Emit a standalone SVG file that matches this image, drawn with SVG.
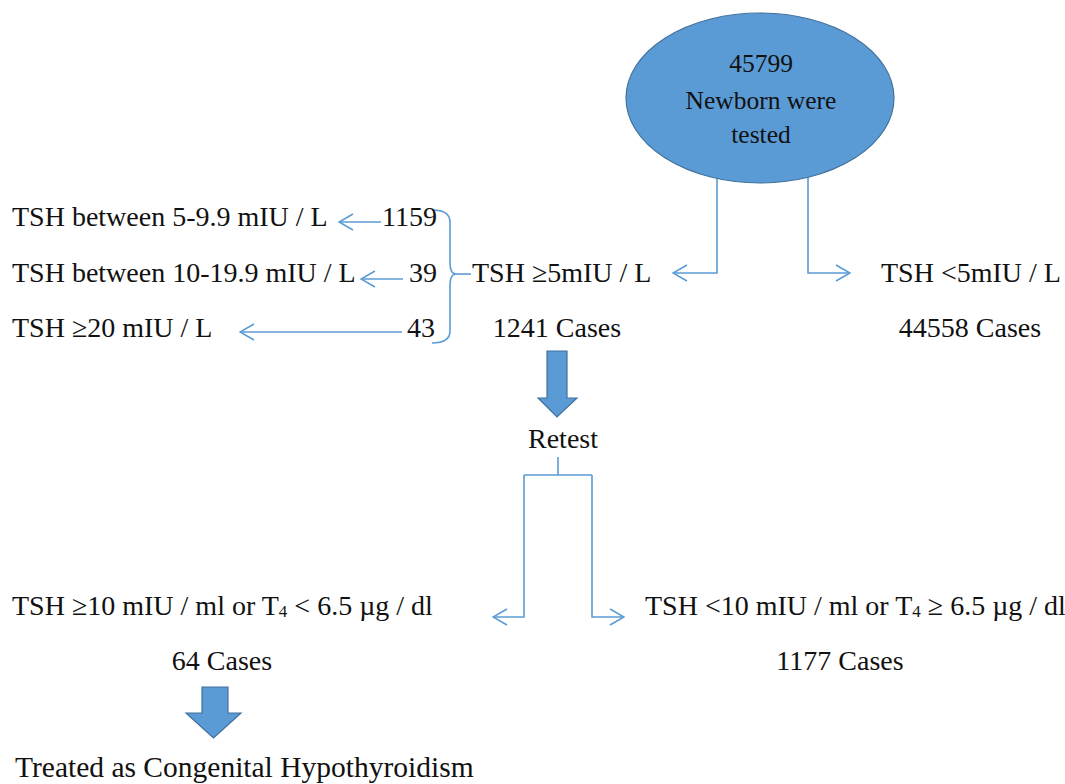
<svg xmlns="http://www.w3.org/2000/svg" width="1065" height="784" viewBox="0 0 1065 784">
  <style>
    .t { font-family: "Liberation Serif", "Times New Roman", serif; font-size: 28px; fill: #111; }
    .tc { text-anchor: middle; }
    .te { text-anchor: end; }
    .big { font-size: 29.5px; }
    .oval { font-size: 25.5px; }
    .sub { font-size: 17px; }
    .link { fill: none; stroke: #5B9BD5; stroke-width: 1.6; }
    .block { fill: #5B9BD5; stroke: #41719C; stroke-width: 1.2; }
  </style>
  <defs>
    <marker id="chev" viewBox="0 0 16 18" refX="15" refY="9" markerWidth="16" markerHeight="18" markerUnits="userSpaceOnUse" orient="auto">
      <path d="M1,1 L15,9 L1,17" fill="none" stroke="#5B9BD5" stroke-width="1.6"/>
    </marker>
  </defs>
  <rect width="1065" height="784" fill="#ffffff"/>

  <!-- connectors -->
  <g id="connectors">
    <path class="link" d="M717,178 V273 H673" marker-end="url(#chev)"/>
    <path class="link" d="M808,177 V273 H850" marker-end="url(#chev)"/>
    <path class="link" d="M381,222 H339" marker-end="url(#chev)"/>
    <path class="link" d="M403,279 H361" marker-end="url(#chev)"/>
    <path class="link" d="M402,332 H240" marker-end="url(#chev)"/>
    <path class="link" d="M432,210 Q450,210 450,222 V263 Q450,274 456,274 Q450,274 450,285 V331 Q450,343 432,343"/>
    <path class="link" d="M456,274 H471"/>
    <path class="link" d="M558,457 V475 M524,475 H592"/>
    <path class="link" d="M524,475 V617 H493" marker-end="url(#chev)"/>
    <path class="link" d="M592,475 V617 H624" marker-end="url(#chev)"/>
    <polygon class="block" points="547,351 567,351 567,398 577,398 557,417 538,398 547,398"/>
    <polygon class="block" points="202,687 228,687 228,713 241,713 213.5,738 186,713 202,713"/>
  </g>

  <g id="root">
    <ellipse class="block" cx="760" cy="98" rx="134" ry="85"/>
    <text class="t oval tc" x="761" y="72">45799</text>
    <text class="t oval tc" x="761" y="109">Newborn were</text>
    <text class="t oval tc" x="761" y="143">tested</text>
  </g>

  <g id="tsh-high">
    <text class="t" x="472" y="282">TSH ≥5mIU / L</text>
    <text class="t tc" x="557" y="337">1241 Cases</text>
  </g>

  <g id="tsh-low">
    <text class="t" x="881" y="282">TSH &lt;5mIU / L</text>
    <text class="t tc" x="970" y="337">44558 Cases</text>
  </g>

  <g id="range-5-9">
    <text class="t" x="12" y="226">TSH between 5-9.9 mIU / L</text>
    <text class="t te" x="437" y="226">1159</text>
  </g>

  <g id="range-10-19">
    <text class="t" x="12" y="282">TSH between 10-19.9 mIU / L</text>
    <text class="t te" x="437" y="282">39</text>
  </g>

  <g id="range-20">
    <text class="t" x="12" y="337">TSH ≥20 mIU / L</text>
    <text class="t te" x="435" y="337">43</text>
  </g>

  <g id="retest">
    <text class="t tc" x="563" y="448">Retest</text>
  </g>

  <g id="retest-positive">
    <text class="t" x="12" y="615">TSH ≥10 mIU / ml or T<tspan class="sub" dy="2">4</tspan><tspan dy="-2"> &lt; 6.5 µg / dl</tspan></text>
    <text class="t tc" x="222" y="670">64 Cases</text>
  </g>

  <g id="retest-negative">
    <text class="t" x="645" y="615">TSH &lt;10 mIU / ml or T<tspan class="sub" dy="2">4</tspan><tspan dy="-2"> ≥ 6.5 µg / dl</tspan></text>
    <text class="t tc" x="840" y="670">1177 Cases</text>
  </g>

  <g id="treated">
    <text class="t big" x="15" y="777">Treated as Congenital Hypothyroidism</text>
  </g>
</svg>
